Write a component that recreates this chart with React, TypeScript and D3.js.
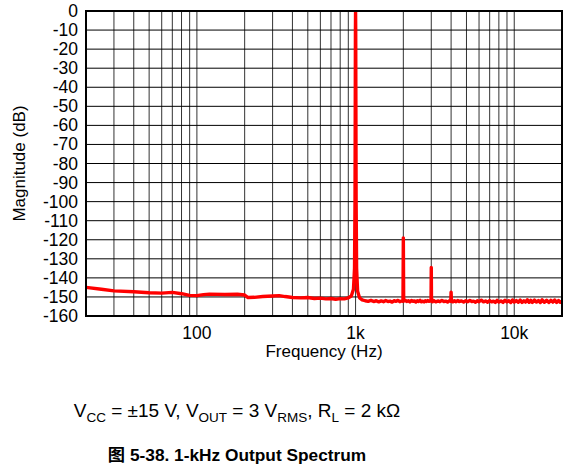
import React from 'react';
import * as d3 from 'd3';

const freqs: number[] = [
  20, 25, 30, 40, 50, 60, 70, 80, 90, 100, 110, 120, 150, 180, 200, 210, 230, 260, 300, 330, 360, 400, 450, 500, 550, 600, 650, 700, 750, 800, 850, 900, 940, 970, 985, 992, 996, 998, 1000, 1002, 1004, 1008, 1015, 1030, 1060,
  1100, 1150, 1200, 1250, 1300, 1350, 1400, 1450, 1500, 1550, 1600, 1650, 1700, 1750, 1800, 1850, 1900, 1950, 1990, 2000, 2010, 2050, 2100, 2150, 2200, 2250, 2300, 2350, 2400, 2450, 2500, 2550, 2600, 2650, 2700, 2750, 2800, 2850, 2900, 2970, 2990, 3000, 3010, 3050, 3100, 3200, 3300, 3400, 3500, 3600, 3700, 3800, 3900, 3980, 4000, 4020, 4100, 4200, 4300, 4400, 4500, 4650, 4800, 4950, 5100, 5250, 5400, 5550, 5700, 5850, 6000, 6200, 6400, 6600, 6800, 7000, 7200, 7400, 7600, 7800, 8000, 8250, 8500, 8750, 9000, 9250, 9500, 9750, 10000, 10300, 10600, 10900, 11200, 11500, 11800, 12100, 12400, 12700, 13000, 13400, 13800, 14200, 14600, 15000, 15500, 16000, 16500, 17000, 17500, 18000, 18500, 19000, 19500, 20000,
];
const magnitudes: number[] = [
  -145, -146, -146.8, -147.3, -147.8, -148, -147.6, -148.3, -149.2, -149.3, -148.8, -148.5, -148.7, -148.6, -149, -150.3, -150.2, -149.8, -149.5, -149.3, -149.8, -150.3, -150.5, -150.3, -150.8, -150.6, -151, -150.8, -151.2, -150.9, -151, -150.5, -149.5, -146, -135, -100, -40, -10, 0, -10, -40, -100, -135, -147, -150.5,
  -151.5, -152, -152.3, -151.8, -152.4, -152, -152.6, -152.1, -152.5, -151.9, -152.4, -152.2, -152.7, -152, -152.3, -151.8, -152.5, -152.1, -152.3, -119, -152.2, -151.7, -152.4, -152, -152.6, -151.9, -152.3, -152.1, -152.7, -152, -152.4, -151.8, -152.5, -152.2, -152.6, -152, -152.4, -151.9, -152.3, -152, -152.2, -134.5, -152.1, -152.5, -151.9, -152.6, -152.1, -152.5, -151.8, -152.4, -152.2, -152.7, -152, -152.3, -147.5, -152.2, -152.6, -152, -152.5, -151.9, -152.4, -152.1, -152.7, -152, -152.5, -151.8, -152.4, -152.2, -152.8, -152, -152.5, -151.7, -152.6, -152.1, -152.8, -151.9, -152.6, -152.2, -152.9, -151.8, -152.7, -152.1, -152.9, -151.7, -152.6, -152, -152.9, -151.6, -152.7, -151.9, -152.8, -151.6, -152.9, -152, -152.7, -151.5, -152.8, -151.8, -152.9, -151.6, -152.7, -151.9, -152.9, -151.5, -152.8, -151.7, -152.9, -151.8, -152.7, -151.6, -152.9, -151.9, -152.8, -152.2,
];

const yTickValues: number[] = [0, -10, -20, -30, -40, -50, -60, -70, -80, -90, -100, -110, -120, -130, -140, -150, -160];
const xTickValues: number[] = [100, 1000, 10000];
const xTickLabels: string[] = ['100', '1k', '10k'];
const xGridValues: number[] = [
  30, 40, 50, 60, 70, 80, 90, 100, 200, 300, 400, 500, 600, 700, 800, 900, 1000, 2000, 3000, 4000, 5000, 6000, 7000, 8000, 9000, 10000,
];

const FONT = "'Liberation Sans', Arial, 'Noto Sans CJK SC', sans-serif";

export default function App() {
  const left = 86, right = 562, top = 11, bottom = 316;
  const x = d3.scaleLog().domain([20, 20000]).range([left, right]);
  const y = d3.scaleLinear().domain([-160, 0]).range([bottom, top]);
  const pts = freqs.map((f, i) => [f, magnitudes[i]] as [number, number]);
  const line = d3.line<[number, number]>().x(d => x(d[0])).y(d => y(d[1]));
  const sub = 13.5;

  return (
    <svg width={570} height={474} style={{ position: 'absolute', left: 0, top: 0, background: '#fff' }} fontFamily={FONT}>
      <rect x={0} y={0} width={570} height={474} fill="#fff" />
      <defs>
        <clipPath id="plotClip">
          <rect x={left} y={top} width={right - left} height={bottom - top} />
        </clipPath>
      </defs>
      {xGridValues.map(v => (
        <line key={'vx' + v} x1={x(v)} x2={x(v)} y1={top} y2={bottom} stroke="#333" strokeWidth={1} />
      ))}
      {yTickValues.map(v => (
        <line key={'hy' + v} x1={left} x2={right} y1={y(v)} y2={y(v)} stroke="#000" strokeWidth={1} />
      ))}
      <path d={line(pts) || ''} fill="none" stroke="#ff0000" strokeWidth={3.4} strokeLinejoin="round" clipPath="url(#plotClip)" />
      <rect x={left} y={top} width={right - left} height={bottom - top} fill="none" stroke="#000" strokeWidth={2} />
      {yTickValues.map(v => (
        <text key={'yl' + v} x={78} y={y(v) + 6} textAnchor="end" fontSize={17.5} fill="#000">{v}</text>
      ))}
      {xTickValues.map((v, i) => (
        <text key={'xl' + v} x={x(v)} y={339} textAnchor="middle" fontSize={17.5} fill="#000">{xTickLabels[i]}</text>
      ))}
      <text x={(left + right) / 2} y={357} textAnchor="middle" fontSize={17} fill="#000">Frequency (Hz)</text>
      <text transform={`translate(25,${(top + bottom) / 2}) rotate(-90)`} textAnchor="middle" fontSize={17} fill="#000">Magnitude (dB)</text>
      <text x={237} y={417} textAnchor="middle" fontSize={19} fill="#000">
        V<tspan fontSize={sub} dy={4.5}>CC</tspan><tspan dy={-4.5}> = ±15 V, V</tspan><tspan fontSize={sub} dy={4.5}>OUT</tspan><tspan dy={-4.5}> = 3 V</tspan><tspan fontSize={sub} dy={4.5}>RMS</tspan><tspan dy={-4.5}>, R</tspan><tspan fontSize={sub} dy={4.5}>L</tspan><tspan dy={-4.5}> = 2 kΩ</tspan>
      </text>
      <text x={237} y={461} textAnchor="middle" fontSize={17.3} fontWeight="bold" fill="#000">图 5-38. 1-kHz Output Spectrum</text>
    </svg>
  );
}
